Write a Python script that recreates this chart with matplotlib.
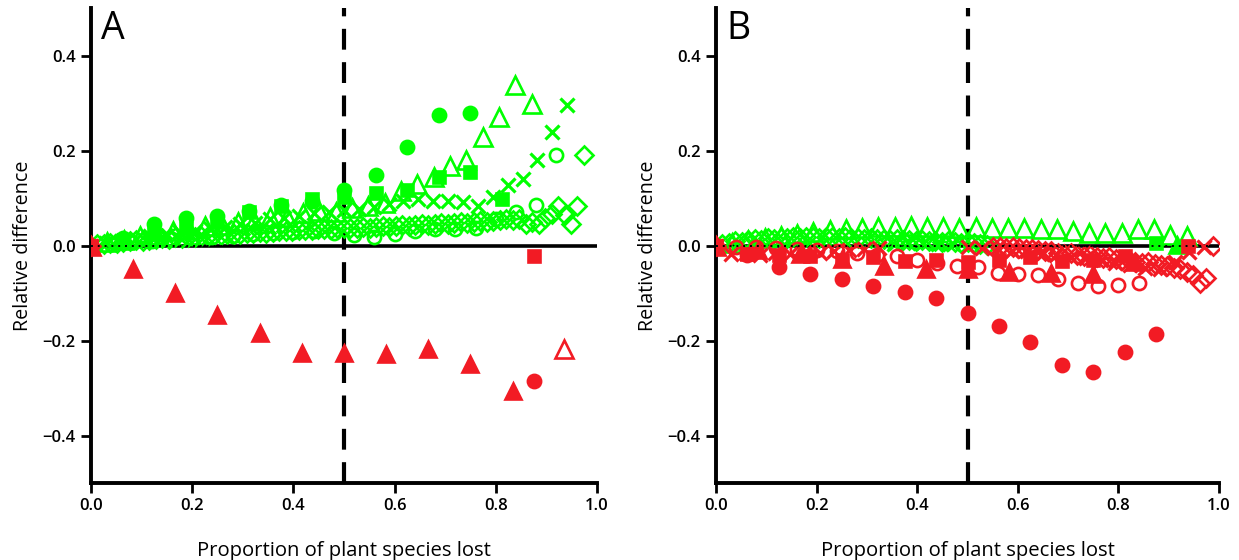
import numpy as np
import matplotlib.pyplot as plt

nan = np.nan

# number of plant species in each network (x = species lost / n)
N_TRI = 12
N_DOT = 16
N_SQR = 16
N_OTRI = 31
N_X = 34
N_OCIRC = 25
N_DIA = 78

# ---- panel A: relative difference for 0, 1, 2, ... species lost ----
A_TRI = [0, -0.05, -0.10, -0.146, -0.185, -0.226, -0.226, -0.229, -0.217, -0.25, -0.307]
A_DOT = [0, 0.015, 0.046, 0.058, 0.062, 0.072, 0.086, 0.094, 0.117, 0.148,
         0.207, 0.275, 0.28, nan, -0.286]
A_SQR = [0, 0.01, 0.024, 0.036, 0.05, 0.07, 0.083, 0.097, 0.103, 0.11,
         0.118, 0.145, 0.155, 0.099, -0.022]
A_OTRI = [0, 0.008, 0.012, 0.02, 0.022, 0.03, 0.033, 0.041, 0.043, 0.05,
          0.052, 0.061, 0.06, 0.068, 0.072, 0.071, 0.08, 0.083, 0.09, 0.115,
          0.129, 0.145, 0.167, 0.181, 0.228, 0.27, 0.338, 0.298, nan, -0.218]
A_X = [0, 0.006, 0.01, 0.013, 0.02, 0.022, 0.028, 0.031, 0.036, 0.04,
       0.045, 0.048, 0.055, 0.058, 0.062, 0.068, 0.07, 0.074, 0.078, 0.082,
       0.088, 0.093, 0.098, 0.093, 0.094, 0.092, 0.083, 0.102, 0.127, 0.14,
       0.18, 0.24, 0.297]
A_OCIRC = [0, 0.004, 0.007, 0.01, 0.013, 0.016, 0.018, 0.021, 0.024, 0.026,
           0.028, 0.03, 0.027, 0.022, 0.019, 0.024, 0.03, 0.035, 0.035, 0.038,
           0.055, 0.07, 0.085, 0.19]
A_DIA = [0, 0.003, 0.004, 0.006, 0.005, 0.008, 0.009, 0.011, 0.01, 0.012,
         0.013, 0.015, 0.014, 0.017, 0.016, 0.019, 0.018, 0.021, 0.02, 0.023,
         0.022, 0.024, 0.025, 0.024, 0.027, 0.026, 0.028, 0.027, 0.029, 0.03,
         0.031, 0.03, 0.032, 0.033, 0.032, 0.034, 0.035, 0.034, 0.036, 0.037,
         0.036, 0.038, 0.039, 0.038, 0.04, 0.041, 0.04, 0.042, 0.043, 0.042,
         0.044, 0.045, 0.044, 0.046, 0.047, 0.046, 0.048, 0.049, 0.048, 0.05,
         0.051, 0.05, 0.052, 0.053, 0.055, 0.054, 0.056, 0.046, 0.05, 0.046,
         0.058, 0.066, 0.083, 0.064, 0.046, 0.083, 0.19]

# ---- panel B ----
B_TRI = [0, -0.01, -0.018, -0.028, -0.044, -0.05, -0.05, -0.055, -0.057, -0.06, -0.035, 0.002]
B_DOT = [0, -0.02, -0.045, -0.059, -0.07, -0.085, -0.098, -0.111, -0.142, -0.17,
         -0.204, -0.252, -0.266, -0.224, -0.187]
B_SQR = [0, -0.018, -0.02, -0.022, -0.03, -0.025, -0.033, -0.03, -0.034, -0.03,
         -0.025, -0.033, -0.03, -0.023, 0.006, -0.001]
B_OTRI = [0, 0.006, 0.011, 0.016, 0.021, 0.025, 0.029, 0.032, 0.035, 0.038,
          0.04, 0.039, 0.041, 0.04, 0.04, 0.038, 0.039, 0.037, 0.036, 0.037,
          0.035, 0.034, 0.03, 0.027, 0.027, 0.027, 0.034, 0.034, 0.023, 0.02]
B_X = [0, -0.018, -0.016, -0.02, -0.015, -0.018, -0.014, -0.016, -0.012, -0.01,
       -0.008, -0.005, 0.004, 0.006, 0.005, 0.004, 0.003, -0.002, -0.005, -0.006,
       -0.011, -0.012, -0.018, -0.019, -0.024, -0.027, -0.03, -0.036, -0.04, -0.047,
       -0.05, -0.035, -0.013, -0.003]
B_OCIRC = [0, -0.002, -0.004, -0.005, -0.007, -0.01, -0.012, -0.015, -0.019, -0.023,
           -0.03, -0.036, -0.044, -0.046, -0.057, -0.059, -0.061, -0.071, -0.078, -0.086,
           -0.082, -0.078]
B_DIA = [0, 0.004, 0.006, 0.009, 0.008, 0.011, 0.013, 0.012, 0.015, 0.014,
         0.016, 0.015, 0.017, 0.016, 0.018, 0.017, 0.016, 0.018, 0.017, 0.016,
         0.017, 0.015, 0.016, 0.014, 0.015, 0.013, 0.014, 0.012, 0.013, 0.011,
         0.012, 0.01, 0.011, 0.009, 0.01, 0.008, 0.009, 0.007, 0.006, 0.007,
         0.005, 0.004, 0.002, -0.002, -0.003, -0.005, -0.004, -0.006, -0.008, -0.007,
         -0.01, -0.012, -0.011, -0.015, -0.017, -0.016, -0.019, -0.021, -0.02, -0.024,
         -0.026, -0.025, -0.029, -0.031, -0.03, -0.034, -0.036, -0.035, -0.039, -0.041,
         -0.043, -0.047, -0.05, -0.055, -0.062, -0.078, -0.068, -0.001]

GREEN = '#00ff00'
RED = '#f21b24'

# marker, size, filled
STYLES = {
    'dia': ('D', 9, False),
    'ocirc': ('o', 9.5, False),
    'x': ('x', 10, False),
    'otri': ('^', 12.5, False),
    'sqr': ('s', 9, True),
    'dot': ('o', 9.5, True),
    'tri': ('^', 11.5, True),
}


def draw_series(ax, n, values, style):
    marker, ms, filled = STYLES[style]
    y = np.asarray(values, dtype=float)
    x = np.arange(len(y)) / n
    for color, keep, z in ((GREEN, y > 0, 3), (RED, y <= 0, 4)):
        if not keep.any():
            continue
        ax.plot(x[keep], y[keep], ls='none', marker=marker, ms=ms,
                mfc=color if filled else 'none', mec=color,
                mew=2.3 if marker == 'x' else 1.9, zorder=z)


def setup_axes(ax, letter):
    ax.set_xlim(0, 1)
    ax.set_ylim(-0.5, 0.5)
    for side in ('top', 'right'):
        ax.spines[side].set_visible(False)
    for side in ('left', 'bottom'):
        ax.spines[side].set_linewidth(2.8)
    ax.set_xticks([0, 0.2, 0.4, 0.6, 0.8, 1.0])
    ax.set_yticks([-0.4, -0.2, 0.0, 0.2, 0.4])
    ax.xaxis.set_major_formatter('{x:.1f}')
    ax.yaxis.set_major_formatter('{x:.1f}')
    ax.tick_params(direction='out', length=7, width=2, labelsize=12, pad=4)
    for lab in ax.get_xticklabels() + ax.get_yticklabels():
        lab.set_fontweight('semibold')
    ax.set_xlabel('Proportion of plant species lost', fontsize=14.6, labelpad=19)
    ax.set_ylabel('Relative difference', fontsize=14.2, labelpad=7)
    ax.axhline(0, color='k', lw=2.6, zorder=2)
    ax.axhline(0, color='k', lw=1.4, ls=(0, (1, 2.5)), zorder=6)
    ax.axvline(0.5, color='k', lw=3, ls=(0, (5, 3)), zorder=2)
    ax.text(0.02, 0.995, letter, transform=ax.transAxes, fontsize=27,
            va='top', ha='left')


plt.rcParams['font.family'] = ['Open Sans', 'DejaVu Sans']

fig = plt.figure(figsize=(12.39, 5.6), dpi=100)
ax_a = fig.add_axes([0.0734, 0.1375, 0.4084, 0.848])
ax_b = fig.add_axes([0.5779, 0.1375, 0.406, 0.848])

panels = [
    (ax_a, 'A', [A_DIA, A_OCIRC, A_X, A_OTRI, A_SQR, A_DOT, A_TRI]),
    (ax_b, 'B', [B_DIA, B_OCIRC, B_X, B_OTRI, B_SQR, B_DOT, B_TRI]),
]
sizes = [N_DIA, N_OCIRC, N_X, N_OTRI, N_SQR, N_DOT, N_TRI]
names = ['dia', 'ocirc', 'x', 'otri', 'sqr', 'dot', 'tri']

for ax, letter, series in panels:
    setup_axes(ax, letter)
    for n, vals, name in zip(sizes, series, names):
        draw_series(ax, n, vals, name)

fig.savefig('out.png', dpi=100)
